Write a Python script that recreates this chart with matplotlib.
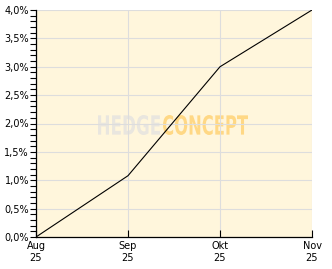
import matplotlib
matplotlib.use("Agg")
import matplotlib.pyplot as plt
from matplotlib.ticker import MultipleLocator, FuncFormatter
from matplotlib.textpath import TextPath
from matplotlib.patches import PathPatch
from matplotlib.font_manager import FontProperties
from matplotlib.transforms import Affine2D, IdentityTransform

months = ["Aug\n25", "Sep\n25", "Okt\n25", "Nov\n25"]
perf = [0.0, 1.08, 3.0, 4.0]   # percent

W, H = 332, 269
fig = plt.figure(figsize=(W/100, H/100), dpi=100)
ax = fig.add_axes([36/W, 32/H, 276/W, 227/H])
ax.set_facecolor("#fff6dc")

x = list(range(len(months)))
ax.plot(x, perf, color="black", lw=0.8, zorder=3)

ax.set_xlim(0, 3)
ax.set_ylim(0, 4)
ax.set_xticks(x)
ax.set_xticklabels(months, fontsize=7)
ax.yaxis.set_major_locator(MultipleLocator(0.5))
ax.yaxis.set_minor_locator(MultipleLocator(0.1))
ax.yaxis.set_major_formatter(FuncFormatter(lambda v, p: ("%.1f%%" % v).replace(".", ",")))
ax.tick_params(axis="y", which="both", direction="out", length=4, width=0.8, labelsize=7, pad=1)
ax.tick_params(axis="x", direction="in", length=5, width=0.8, labelsize=7, pad=3)
ax.grid(True, color="#dddddd", lw=0.8)
ax.set_axisbelow(True)

for s in ["top", "right"]:
    ax.spines[s].set_visible(False)
for s in ["left", "bottom"]:
    ax.spines[s].set_linewidth(0.9)

# watermark, squeezed into pixel boxes (x0, x1, y_top, y_bottom from top)
def watermark(txt, x0, x1, ytop, ybot, color):
    p = TextPath((0, 0), txt, size=10, prop=FontProperties(family="DejaVu Sans", weight="bold"))
    bb = p.get_extents()
    sx = (x1 - x0) / bb.width
    sy = (ybot - ytop) / bb.height
    tr = Affine2D().translate(-bb.x0, -bb.y0).scale(sx, sy).translate(x0, H - ybot)
    patch = PathPatch(tr.transform_path(p), transform=IdentityTransform(),
                      facecolor=color, edgecolor="none", zorder=0.2)
    ax.add_patch(patch)

watermark("HEDGE", 98, 160, 115, 135, "#e9e6df")
watermark("CONCEPT", 163, 248, 115, 135, "#ffd885")

fig.savefig("out.png", dpi=100)
